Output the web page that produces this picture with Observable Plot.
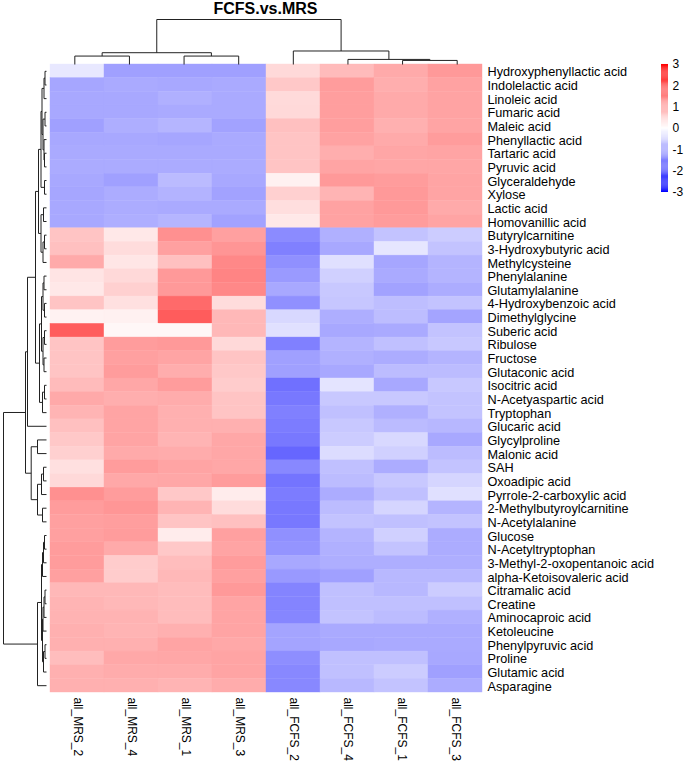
<!DOCTYPE html>
<html>
<head>
<meta charset="utf-8">
<script src="https://cdn.jsdelivr.net/npm/d3@7"></script>
<script src="https://cdn.jsdelivr.net/npm/@observablehq/plot@0.6"></script>
<style>
  body { margin: 0; background: white; }
  #wrap { position: relative; width: 685px; height: 764px; font-family: "Liberation Sans", Arial, sans-serif; }
  #wrap > svg, #wrap > div.layer { position: absolute; left: 0; top: 0; }
  #title { position: absolute; left: 0; top: 0px; width: 531px; text-align: center; font: bold 16px "Liberation Sans", Arial, sans-serif; line-height: 18px; color: #000; }
</style>
</head>
<body>
<div id="wrap"><div id="title">FCFS.vs.MRS</div></div>
<script>
// ---- data ----
const samples = ["all_MRS_2","all_MRS_4","all_MRS_1","all_MRS_3","all_FCFS_2","all_FCFS_4","all_FCFS_1","all_FCFS_3"];

const metabolites = [
  "Hydroxyphenyllactic acid","Indolelactic acid","Linoleic acid","Fumaric acid","Maleic acid",
  "Phenyllactic acid","Tartaric acid","Pyruvic acid","Glyceraldehyde","Xylose","Lactic acid",
  "Homovanillic acid","Butyrylcarnitine","3-Hydroxybutyric acid","Methylcysteine","Phenylalanine",
  "Glutamylalanine","4-Hydroxybenzoic acid","Dimethylglycine","Suberic acid","Ribulose","Fructose",
  "Glutaconic acid","Isocitric acid","N-Acetyaspartic acid","Tryptophan","Glucaric acid",
  "Glycylproline","Malonic acid","SAH","Oxoadipic acid","Pyrrole-2-carboxylic acid",
  "2-Methylbutyroylcarnitine","N-Acetylalanine","Glucose","N-Acetyltryptophan",
  "3-Methyl-2-oxopentanoic acid","alpha-Ketoisovaleric acid","Citramalic acid","Creatine",
  "Aminocaproic acid","Ketoleucine","Phenylpyruvic acid","Proline","Glutamic acid","Asparagine"
];

// z-scores, one row per metabolite, columns in the order of `samples`
const zscores = [
  [-0.27,-1.12,-1.12,-1.12, 0.45, 0.80, 1.00, 1.20],
  [-1.05,-1.00,-1.02,-1.00, 0.65, 1.16, 0.95, 1.10],
  [-1.02,-1.02,-0.93,-1.00, 0.43, 1.14, 1.00, 1.08],
  [-1.02,-1.02,-1.00,-1.00, 0.45, 1.14, 1.00, 1.08],
  [-1.12,-0.95,-0.87,-1.10, 0.74, 1.14, 0.93, 1.07],
  [-1.02,-1.02,-1.05,-1.00, 0.70, 1.10, 1.00, 1.16],
  [-1.00,-1.00,-1.00,-1.00, 0.70, 0.95, 1.05, 1.07],
  [-0.99,-0.99,-0.99,-0.99, 0.70, 1.07, 1.05, 1.05],
  [-1.02,-1.12,-0.80,-1.02, 0.17, 1.20, 1.16, 1.07],
  [-1.05,-0.98,-0.90,-1.10, 0.55, 0.88, 1.20, 1.07],
  [-1.02,-0.98,-1.00,-1.00, 0.39, 1.10, 1.20, 1.00],
  [-1.02,-0.95,-0.87,-1.10, 0.27, 1.10, 1.16, 1.07],
  [ 0.70, 0.27, 1.31, 1.12,-1.37,-0.93,-0.70,-0.60],
  [ 0.74, 0.41, 1.12, 1.25,-1.49,-1.02,-0.30,-0.70],
  [ 1.00, 0.29, 0.74, 1.40,-1.31,-0.36,-1.05,-0.88],
  [ 0.32, 0.45, 1.20, 1.45,-1.19,-0.55,-1.00,-0.88],
  [ 0.27, 0.55, 1.20, 1.40,-1.02,-0.65,-1.10,-0.98],
  [ 0.70, 0.36, 1.75, 0.41,-1.31,-0.67,-0.76,-0.70],
  [ 0.15, 0.17, 1.92, 0.83,-0.46,-0.95,-0.78,-1.07],
  [ 1.92, 0.10, 0.10, 0.83,-0.36,-1.02,-1.00,-0.70],
  [ 0.70, 1.16, 1.20, 0.45,-1.49,-0.88,-0.74,-0.65],
  [ 0.70, 1.12, 1.07, 0.70,-1.12,-0.93,-0.98,-0.88],
  [ 0.70, 1.16, 0.97, 0.65,-1.12,-1.02,-0.79,-0.79],
  [ 0.80, 1.04, 1.16, 0.60,-1.68,-0.32,-1.02,-0.65],
  [ 1.01, 0.95, 0.98, 0.70,-1.59,-0.65,-0.65,-0.70],
  [ 0.88, 1.07, 0.93, 0.70,-1.49,-0.74,-0.93,-0.70],
  [ 0.74, 1.07, 0.93, 0.93,-1.54,-0.65,-0.80,-0.85],
  [ 0.65, 1.07, 0.88, 1.04,-1.59,-0.60,-0.46,-1.02],
  [ 0.55, 1.00, 0.98, 1.04,-1.80,-0.41,-0.55,-0.79],
  [ 0.36, 1.16, 1.07, 1.04,-1.40,-0.74,-0.98,-0.70],
  [ 0.45, 1.02, 1.04, 1.16,-1.64,-0.79,-0.65,-0.50],
  [ 1.31, 1.16, 0.65, 0.22,-1.54,-0.98,-0.74,-0.36],
  [ 1.16, 1.24, 0.88, 0.41,-1.59,-0.79,-0.50,-0.88],
  [ 1.12, 1.14, 0.70, 0.74,-1.59,-0.70,-0.74,-0.70],
  [ 1.12, 1.16, 0.22, 1.12,-1.31,-0.88,-0.55,-0.98],
  [ 1.16, 1.00, 0.65, 1.07,-1.26,-0.93,-0.70,-0.98],
  [ 1.16, 0.60, 0.78, 1.16,-1.02,-0.95,-0.95,-0.95],
  [ 1.12, 0.60, 0.83, 1.12,-1.20,-1.12,-0.83,-0.83],
  [ 0.83, 0.83, 0.79, 1.20,-1.45,-0.74,-0.83,-0.60],
  [ 0.88, 0.83, 0.79, 1.07,-1.45,-0.74,-0.74,-0.74],
  [ 0.90, 0.90, 0.79, 1.07,-1.42,-0.70,-0.79,-0.93],
  [ 0.93, 0.88, 0.93, 1.07,-1.07,-1.00,-1.00,-1.00],
  [ 0.93, 0.93, 1.07, 1.02,-1.07,-1.02,-1.00,-1.00],
  [ 0.78, 1.02, 1.04, 1.07,-1.33,-0.74,-0.74,-1.02],
  [ 0.93, 0.98, 0.98, 1.07,-1.40,-0.74,-0.60,-1.12],
  [ 0.93, 0.93, 0.88, 0.98,-1.40,-0.83,-0.70,-0.98]
];

const legendTicks = [-3, -2, -1, 0, 1, 2, 3];

// dendrograms: [left, right, mergeHeight]; leaves = display index
const colTree = [[[0, 1, 8.3], [2, 3, 8.3], 11.6], [4, [5, [6, 7, 4], 5], 13.3], 44.3];

const blueTree = [0, [[[1, [2, 3, 1.5], 3], [4, [5, [6, 7, 1.5], 2.5], 3.5], 4],
                      [8, [9, [10, 11, 2], 3], 4], 5], 9];
const redUpper = [[[12, 13, 4], [14, [15, 16, 3], 5], 9], [17, 18, 9], 15.3];
const groupA = [[20, [21, 22, 2], 4],
                [[[23, 24, 2.5], [25, 26, 2], 3.5], [[27, 28, 2], [29, 30, 2.5], 3.5], 5], 7];
const groupB = [[[31, [32, 33, 2], 3.5], [34, 35, 3], 5.5],
                [[36, 37, 2], [[[[38, 39, 2], 40, 2.5], [41, 42, 1.5], 3.5], [43, [44, 45, 1.5], 2.5], 4.5], 5.5], 8];
const rowTree = [blueTree, [redUpper, [19, [groupA, groupB, 11], 19], 21], 43];

// ---- helpers ----
function treeSegments(tree) {
  const segs = [];
  function walk(node) {
    if (typeof node === "number") return {pos: node + 0.5, h: 0};
    const [l, r, h] = node;
    const a = walk(l), b = walk(r);
    segs.push({p1: a.pos, h1: a.h, p2: a.pos, h2: h});
    segs.push({p1: b.pos, h1: b.h, p2: b.pos, h2: h});
    segs.push({p1: a.pos, h1: h, p2: b.pos, h2: h});
    return {pos: (a.pos + b.pos) / 2, h};
  }
  walk(tree);
  return segs;
}

const cells = [];
metabolites.forEach((m, i) => samples.forEach((s, j) => cells.push({metabolite: m, sample: s, value: zscores[i][j]})));

const W = 685, H = 764;
const M = {top: 64, left: 47, right: 201, bottom: 72};
const FONT = '"Liberation Sans", Arial, sans-serif';
const colorScale = {type: "linear", domain: [-3, 0, 3], range: ["#0000FF", "#FFFFFF", "#FF0000"], interpolate: "rgb"};
const baseStyle = {background: "transparent", fontFamily: FONT, color: "#000", overflow: "visible"};

const wrap = document.getElementById("wrap");

// main heatmap
const heat = Plot.plot({
  width: W, height: H,
  marginTop: M.top, marginLeft: M.left, marginRight: M.right, marginBottom: M.bottom,
  x: {domain: samples, padding: 0, axis: null},
  y: {domain: metabolites, padding: 0, axis: null},
  color: colorScale,
  style: baseStyle,
  marks: [
    Plot.cell(cells, {x: "sample", y: "metabolite", fill: "value", stroke: "value", strokeWidth: 0.4}),
    Plot.axisY({anchor: "right", tickSize: 0, tickPadding: 3, fontSize: 12.7, label: null, dy: 1}),
    Plot.axisX({anchor: "bottom", tickSize: 0, tickPadding: 5, tickRotate: 90, fontSize: 12, label: null})
  ]
});
wrap.appendChild(heat);

// column dendrogram
const colSegs = treeSegments(colTree);
const colDendro = Plot.plot({
  width: W, height: M.top,
  marginTop: 19, marginBottom: 0, marginLeft: M.left, marginRight: M.right,
  x: {domain: [0, samples.length], axis: null},
  y: {domain: [0, d3.max(colSegs, d => d.h2)], axis: null},
  style: baseStyle,
  marks: [Plot.link(colSegs, {x1: "p1", y1: "h1", x2: "p2", y2: "h2", stroke: "#222", strokeWidth: 1})]
});
wrap.appendChild(colDendro);

// row dendrogram
const rowSegs = treeSegments(rowTree);
const rowDendro = Plot.plot({
  width: M.left, height: H,
  marginTop: M.top, marginBottom: M.bottom, marginLeft: 3, marginRight: 1,
  x: {domain: [d3.max(rowSegs, d => d.h2), 0], axis: null},
  y: {domain: [0, metabolites.length], axis: null},
  style: baseStyle,
  marks: [Plot.link(rowSegs, {x1: "h1", y1: "p1", x2: "h2", y2: "p2", stroke: "#222", strokeWidth: 1})]
});
wrap.appendChild(rowDendro);

// colour legend
const step = 0.05;
const legendSteps = d3.range(-3, 3, step).map(v => ({y1: v, y2: v + step + 0.001, v: v + step / 2}));
const legend = Plot.plot({
  width: W, height: H,
  marginLeft: 661, marginRight: W - 668, marginTop: 64, marginBottom: H - 192,
  x: {domain: [0, 1], axis: null},
  y: {domain: [-3, 3], axis: null},
  color: colorScale,
  style: baseStyle,
  marks: [
    Plot.rect(legendSteps, {x1: 0, x2: 1, y1: "y1", y2: "y2", fill: "v"}),
    Plot.axisY({anchor: "right", ticks: legendTicks, tickSize: 0, tickPadding: 4, fontSize: 12, label: null, tickFormat: d => String(d)})
  ]
});
wrap.appendChild(legend);
</script>
</body>
</html>
